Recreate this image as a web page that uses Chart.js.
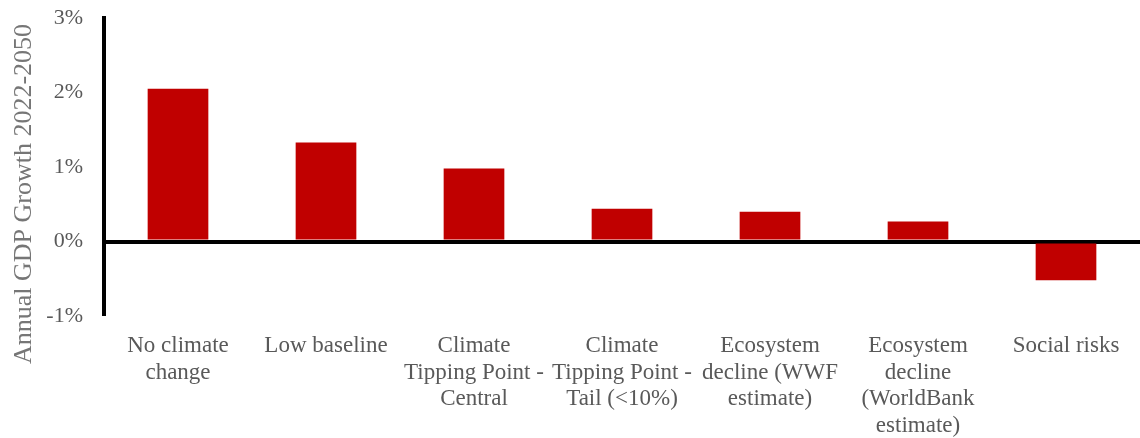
<!DOCTYPE html>
<html>
<head>
<meta charset="utf-8">
<style>
  html, body { margin: 0; padding: 0; background: #fff; }
  #wrap { width: 1140px; height: 438px; position: relative; }
</style>
<script src="https://cdn.jsdelivr.net/npm/chart.js@4/dist/chart.umd.min.js"></script>
</head>
<body>
<div id="wrap"><canvas id="c" width="1140" height="438"></canvas></div>
<script>
// Scenario names (wrapped as they appear under the axis)
const categories = [
  ['No climate', 'change'],
  ['Low baseline'],
  ['Climate', 'Tipping Point -', 'Central'],
  ['Climate', 'Tipping Point -', 'Tail (<10%)'],
  ['Ecosystem', 'decline (WWF', 'estimate)'],
  ['Ecosystem', 'decline', '(WorldBank', 'estimate)'],
  ['Social risks']
];
// Annual GDP growth 2022-2050, in percent
const growth = [2.05, 1.33, 0.98, 0.44, 0.40, 0.27, -0.52];
// Y axis tick values (percent)
const yTicks = [-1, 0, 1, 2, 3];
const yTitle = 'Annual GDP Growth 2022-2050';

const FONT = "'Liberation Serif', 'Times New Roman', serif";

// Rotated y-axis title, placed in the left margin
const titlePlugin = {
  id: 'sideTitle',
  afterDraw(chart) {
    const ctx = chart.ctx;
    ctx.save();
    ctx.translate(24, 194);
    ctx.rotate(-Math.PI / 2);
    ctx.font = '26px ' + FONT;
    ctx.fillStyle = '#767676';
    ctx.textAlign = 'center';
    ctx.textBaseline = 'middle';
    ctx.fillText(yTitle, 0, 0);
    ctx.restore();
  }
};

new Chart(document.getElementById('c'), {
  type: 'bar',
  data: {
    labels: categories,
    datasets: [{
      data: growth,
      backgroundColor: '#C00000',
      borderWidth: 0,
      categoryPercentage: 1.0,
      barPercentage: 0.41
    }]
  },
  options: {
    responsive: false,
    animation: false,
    layout: { padding: { top: 18, right: 0, left: 0, bottom: 0 } },
    plugins: { legend: { display: false }, tooltip: { enabled: false } },
    scales: {
      x: {
        grid: { display: false, drawTicks: false },
        border: { display: false },
        ticks: {
          color: '#595959',
          font: { family: FONT, size: 23, lineHeight: 1.15 },
          padding: 17,
          maxRotation: 0,
          autoSkip: false
        },
        afterFit(scale) { scale.height = 122; }
      },
      y: {
        min: -1,
        max: 3,
        afterBuildTicks(scale) { scale.ticks = yTicks.map(v => ({ value: v })); },
        grid: {
          drawTicks: false,
          // only the zero line is drawn, as a heavy black rule
          color: c => (c.tick && c.tick.value === 0) ? '#000' : 'rgba(0,0,0,0)',
          lineWidth: c => (c.tick && c.tick.value === 0) ? 4 : 0
        },
        border: { display: true, color: '#000', width: 4 },
        ticks: {
          color: '#595959',
          font: { family: FONT, size: 22 },
          padding: 21,
          callback: v => v + '%'
        },
        afterFit(scale) {
          scale.width = 104;
          scale.paddingTop = 0;
          scale.paddingBottom = 0;
        }
      }
    }
  },
  plugins: [titlePlugin]
});
</script>
</body>
</html>
